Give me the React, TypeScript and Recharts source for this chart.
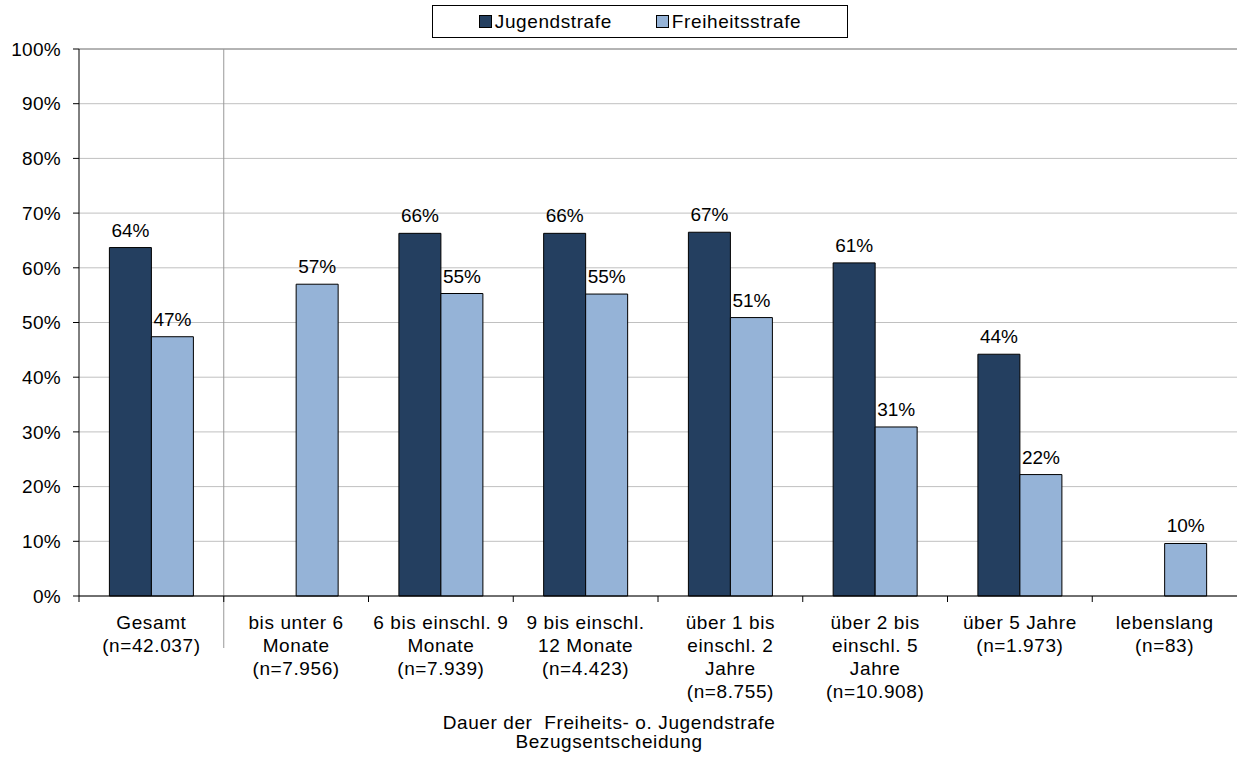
import {
  Bar,
  BarChart,
  CartesianGrid,
  LabelList,
  Legend,
  ReferenceLine,
  XAxis,
  YAxis,
} from "recharts";

const categories = [
  "Gesamt\n(n=42.037)",
  "bis unter 6\nMonate\n(n=7.956)",
  "6 bis einschl. 9\nMonate\n(n=7.939)",
  "9 bis einschl.\n12 Monate\n(n=4.423)",
  "über 1 bis\neinschl. 2\nJahre\n(n=8.755)",
  "über 2 bis\neinschl. 5\nJahre\n(n=10.908)",
  "über 5 Jahre\n(n=1.973)",
  "lebenslang\n(n=83)",
];
const jugendstrafe = [63.7, null, 66.3, 66.3, 66.5, 60.9, 44.2, null];
const freiheitsstrafe = [47.4, 57.0, 55.3, 55.2, 50.9, 30.9, 22.2, 9.6];
const yTicks = [0, 10, 20, 30, 40, 50, 60, 70, 80, 90, 100];
const seriesNames = ["Jugendstrafe", "Freiheitsstrafe"];
const axisTitle = ["Dauer der  Freiheits- o. Jugendstrafe", "Bezugsentscheidung"];

const DARK = "#243F60";
const LIGHT = "#95B3D7";
const FONT = "'Liberation Sans', Arial, sans-serif";

const data = categories.map((name, i) => ({
  name,
  jugend: jugendstrafe[i],
  frei: freiheitsstrafe[i],
}));

function CategoryTick(props: any) {
  const { x, y, payload } = props;
  const lines = String(payload.value).split("\n");
  const half = payload.offset ?? 0;
  return (
    <g>
      <line x1={x - half} x2={x - half} y1={y - 8} y2={y - 2} stroke="#000" />
      <text
        x={x}
        y={y + 25}
        textAnchor="middle"
        fontSize={19}
        letterSpacing={0.6}
        fontFamily={FONT}
        fill="#000"
      >
        {lines.map((l, i) => (
          <tspan key={i} x={x} dy={i === 0 ? 0 : 23}>
            {l}
          </tspan>
        ))}
      </text>
    </g>
  );
}

function LegendBox() {
  const colors = [DARK, LIGHT];
  return (
    <div
      style={{
        boxSizing: "border-box",
        width: 416,
        height: 33,
        border: "1px solid #000",
        background: "#fff",
        display: "flex",
        alignItems: "center",
        justifyContent: "center",
        gap: 44,
        fontFamily: FONT,
        fontSize: 19,
        letterSpacing: 0.6,
        color: "#000",
      }}
    >
      {seriesNames.map((n, i) => (
        <span key={n} style={{ display: "flex", alignItems: "center" }}>
          <span
            style={{
              display: "inline-block",
              width: 11,
              height: 11,
              background: colors[i],
              border: "1px solid #000",
              marginRight: 3,
            }}
          />
          {n}
        </span>
      ))}
    </div>
  );
}

const pct = (v: any) => (v == null ? "" : `${Math.round(v)}%`);

export default function App() {
  return (
    <div style={{ position: "absolute", left: 0, top: 0, background: "#fff" }}>
      <BarChart
        width={1237}
        height={762}
        data={data}
        margin={{ top: 16, right: 0, left: 0, bottom: 0 }}
        barCategoryGap="21%"
        barGap={0}
        style={{ fontFamily: FONT }}
      >
        <CartesianGrid vertical={false} stroke="#c0c0c0" />
        <ReferenceLine y={100} stroke="#888" />
        <ReferenceLine
          x={categories[0]}
          position="end"
          shape={(p: any) => (
            <line
              x1={p.x1}
              x2={p.x2}
              y1={Math.min(p.y1, p.y2)}
              y2={Math.max(p.y1, p.y2) + 52}
              stroke="#999"
            />
          )}
        />
        <XAxis
          dataKey="name"
          interval={0}
          height={166}
          axisLine={{ stroke: "#000" }}
          tickLine={false}
          tick={<CategoryTick />}
          label={{
            content: (p: any) => {
              const vb = p.viewBox;
              const cx = vb.x + vb.width / 2 - 49;
              return (
                <text
                  x={cx}
                  y={vb.y + 133}
                  textAnchor="middle"
                  fontSize={19}
                  letterSpacing={0.6}
                  fontFamily={FONT}
                  fill="#000"
                  style={{ whiteSpace: "pre" }}
                >
                  <tspan x={cx} dy={0}>
                    {axisTitle[0]}
                  </tspan>
                  <tspan x={cx} dy={19}>
                    {axisTitle[1]}
                  </tspan>
                </text>
              );
            },
          }}
        />
        <YAxis
          width={79}
          domain={[0, 100]}
          ticks={yTicks}
          tickFormatter={(v) => `${v}%`}
          axisLine={{ stroke: "#000" }}
          tickLine={{ stroke: "#000" }}
          tickSize={6}
          tickMargin={12}
          tick={{ fontSize: 19, fill: "#000", fontFamily: FONT, letterSpacing: 0.3 }}
        />
        <Legend
          verticalAlign="top"
          content={() => <LegendBox />}
          wrapperStyle={{ top: 5, left: 432, width: 416, height: 33 }}
        />
        <Bar
          dataKey="jugend"
          name={seriesNames[0]}
          fill={DARK}
          stroke="#000"
          strokeWidth={1}
          isAnimationActive={false}
        >
          <LabelList
            dataKey="jugend"
            position="top"
            offset={11}
            formatter={pct}
            fill="#000"
            fontSize={19}
            fontFamily={FONT}
          />
        </Bar>
        <Bar
          dataKey="frei"
          name={seriesNames[1]}
          fill={LIGHT}
          stroke="#000"
          strokeWidth={1}
          isAnimationActive={false}
        >
          <LabelList
            dataKey="frei"
            position="top"
            offset={11}
            formatter={pct}
            fill="#000"
            fontSize={19}
            fontFamily={FONT}
          />
        </Bar>
      </BarChart>
    </div>
  );
}
